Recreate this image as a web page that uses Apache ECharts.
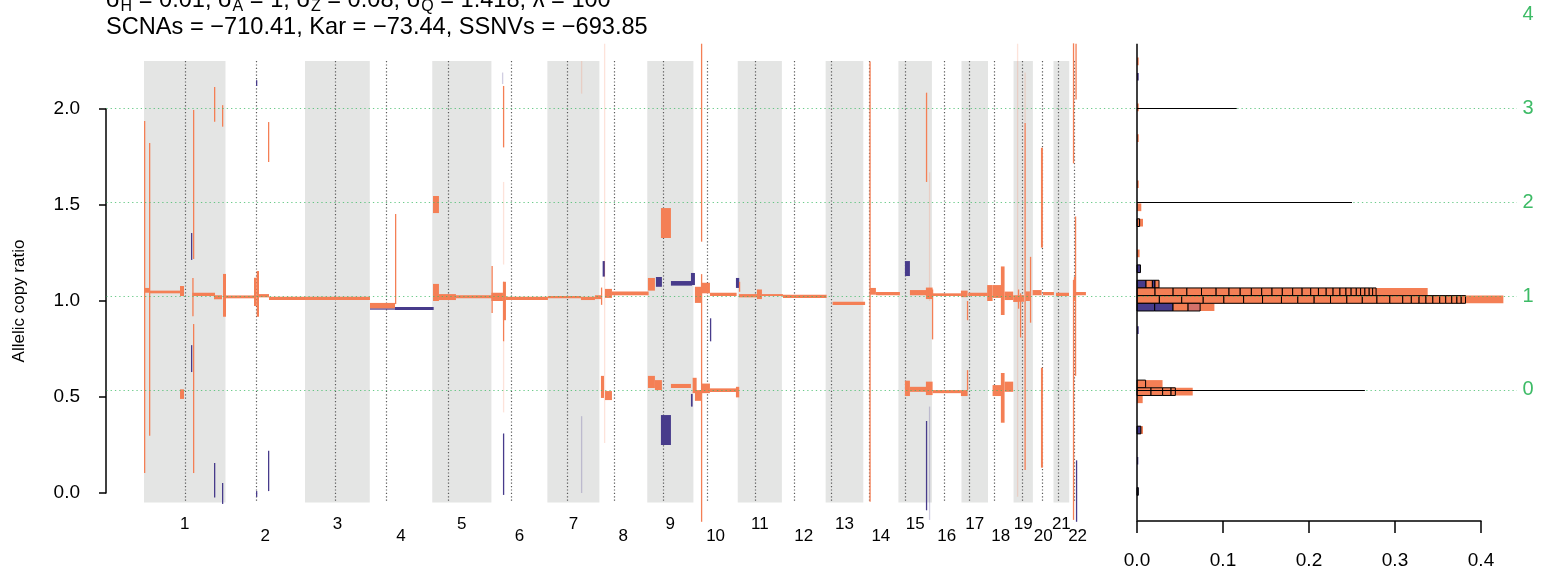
<!DOCTYPE html>
<html>
<head>
<meta charset="utf-8">
<script src="https://cdn.jsdelivr.net/npm/echarts@6/dist/echarts.min.js"></script>
<style>
  html, body { margin: 0; padding: 0; background: #fff; }
  #chart { width: 1556px; height: 576px; }
</style>
</head>
<body>
<div id="chart"></div>
<script>
// hg19 chromosome lengths and centromeres (Mb)
const chromNames = ['1','2','3','4','5','6','7','8','9','10','11','12','13','14','15','16','17','18','19','20','21','22'];
const chromLen = [249.25, 243.20, 198.02, 191.15, 180.92, 171.12, 159.14, 146.36, 141.21, 135.53, 135.01,
                  133.85, 115.17, 107.35, 102.53, 90.35, 81.20, 78.08, 59.13, 63.03, 48.13, 51.30];
const centromere = [125.0, 93.3, 91.0, 50.4, 48.4, 61.0, 59.9, 45.6, 49.0, 40.2, 53.7, 35.8, 17.9, 17.6,
                    19.0, 36.6, 24.0, 17.2, 26.5, 27.5, 13.2, 14.7];

// segments: [start Mb (genome), end Mb, ratio low, ratio high, colour key]
// o = orange, n = navy, p = faint orange, l = faint navy
const segments = [
  // chr1
  [0, 3.1, 0.104, 1.938, 'o'], [15.3, 18.3, 0.298, 1.823, 'o'], [0, 16.2, 1.043, 1.068, 'o'],
  [16.2, 110.1, 1.040, 1.054, 'o'], [110.1, 122.3, 1.026, 1.078, 'o'], [110.1, 122.3, 0.490, 0.540, 'o'],
  [143.7, 146.8, 1.214, 1.354, 'n'], [143.7, 146.8, 0.630, 0.770, 'n'], [149.8, 152.9, 1.219, 1.995, 'o'],
  [149.8, 152.9, 0.104, 0.880, 'o'], [147.7, 217.1, 1.026, 1.043, 'o'], [147.7, 149.8, 0.920, 1.120, 'o'],
  [214.1, 217.1, 1.934, 2.115, 'o'], [238.5, 241.6, 1.908, 2.020, 'o'], [214.1, 238.5, 1.009, 1.030, 'o'],
  [241.6, 250.8, 0.918, 1.141, 'o'], [214.1, 217.1, -0.024, 0.156, 'n'], [238.5, 241.6, -0.057, 0.052, 'n'],
  // chr2
  [250.8, 339.4, 1.014, 1.029, 'o'], [336.4, 344.6, 0.974, 1.121, 'o'], [344.6, 351.7, 0.918, 1.156, 'o'],
  [351.7, 382.3, 1.019, 1.036, 'o'], [382.3, 691.1, 1.005, 1.022, 'o'], [342.5, 345.6, 2.120, 2.150, 'n'],
  [379.2, 382.3, 1.724, 1.932, 'o'], [379.2, 382.3, 0.010, 0.220, 'n'], [342.5, 345.6, -0.020, 0.010, 'n'],
  // chr4
  [691.1, 767.6, 0.955, 0.962, 'n'], [691.1, 767.6, 0.962, 0.990, 'o'], [767.6, 886.0, 0.953, 0.969, 'n'],
  [767.6, 770.6, 0.984, 1.453, 'o'],
  // chr5
  [883.8, 902.1, 1.458, 1.547, 'o'], [883.8, 902.1, 1.000, 1.089, 'o'], [902.1, 954.1, 1.005, 1.036, 'o'],
  [954.1, 1064.2, 1.014, 1.030, 'o'], [1062.7, 1065.7, 0.937, 1.182, 'o'],
  // chr6
  [1062.5, 1097.8, 1.000, 1.043, 'o'], [1097.8, 1100.9, 1.800, 2.120, 'o'], [1097.8, 1100.9, 1.190, 1.620, 'p'],
  [1094.8, 1097.8, 2.130, 2.190, 'l'], [1097.8, 1107.0, 0.900, 1.100, 'o'], [1097.8, 1100.9, 0.790, 1.100, 'o'],
  [1097.8, 1100.9, 0.420, 0.790, 'p'], [1097.8, 1100.9, -0.010, 0.310, 'n'], [1107.0, 1235.5, 1.005, 1.022, 'o'],
  // chr7
  [1235.5, 1336.4, 1.014, 1.026, 'o'], [1336.4, 1379.2, 1.005, 1.022, 'o'], [1379.2, 1397.5, 1.010, 1.030, 'o'],
  [1336.4, 1339.5, 2.080, 2.250, 'p'], [1336.4, 1339.5, 0.000, 0.400, 'l'], [1397.5, 1400.6, 0.980, 1.070, 'o'],
  // chr8
  [1402.7, 1409.8, 1.127, 1.208, 'n'], [1406.8, 1409.8, 0.260, 2.340, 'p'], [1409.8, 1431.2, 1.016, 1.063, 'o'],
  [1431.2, 1543.4, 1.030, 1.049, 'o'], [1397.5, 1406.8, 0.495, 0.610, 'o'], [1409.8, 1431.2, 0.484, 0.531, 'o'],
  // chr9
  [1541.2, 1562.6, 1.054, 1.120, 'o'], [1565.7, 1584.0, 1.074, 1.125, 'n'], [1581.0, 1611.6, 1.328, 1.484, 'o'],
  [1611.6, 1675.8, 1.080, 1.104, 'n'], [1672.8, 1685.0, 1.083, 1.146, 'n'], [1541.2, 1562.6, 0.547, 0.610, 'o'],
  [1562.6, 1584.0, 0.536, 0.588, 'o'], [1581.0, 1611.6, 0.250, 0.406, 'n'], [1611.6, 1672.8, 0.547, 0.568, 'o'],
  [1672.8, 1678.0, 0.450, 0.516, 'n'], [1678.0, 1690.2, 0.520, 0.600, 'o'],
  // chr10
  [1703.4, 1706.4, 1.309, 2.340, 'o'], [1703.4, 1706.4, -0.150, 1.140, 'o'], [1684.9, 1705.4, 0.990, 1.074, 'o'],
  [1703.4, 1730.9, 1.040, 1.095, 'o'], [1730.9, 1812.5, 1.026, 1.043, 'o'], [1810.4, 1820.5, 1.068, 1.120, 'n'],
  [1819.5, 1822.6, 1.048, 1.100, 'o'], [1684.9, 1705.4, 0.480, 0.536, 'o'], [1705.4, 1730.9, 0.520, 0.570, 'o'],
  [1730.9, 1813.5, 0.526, 0.545, 'o'], [1810.4, 1820.5, 0.498, 0.553, 'o'], [1730.9, 1734.0, 0.790, 0.910, 'n'],
  // chr11 - chr13
  [1819.5, 1874.6, 1.019, 1.036, 'o'], [1874.6, 1889.9, 1.010, 1.060, 'o'], [1889.9, 1954.1, 1.026, 1.036, 'o'],
  [1954.1, 2087.8, 1.016, 1.033, 'o'], [2106.1, 2205.4, 0.979, 0.996, 'o'],
  // chr14
  [2218.6, 2222.0, -0.045, 2.247, 'o'], [2220.1, 2238.5, 1.033, 1.068, 'o'], [2238.5, 2311.9, 1.030, 1.047, 'o'],
  // chr15
  [2327.2, 2342.5, 1.130, 1.208, 'n'], [2342.5, 2393.6, 1.030, 1.057, 'o'], [2391.4, 2411.9, 1.010, 1.070, 'o'],
  [2391.4, 2394.5, 1.620, 2.085, 'o'], [2400.6, 2403.6, 1.000, 1.670, 'p'], [2327.2, 2342.5, 0.505, 0.585, 'o'],
  [2342.5, 2393.6, 0.527, 0.553, 'o'], [2391.4, 2411.9, 0.510, 0.580, 'o'], [2391.4, 2394.5, -0.090, 0.375, 'n'],
  [2400.6, 2403.6, -0.140, 0.450, 'l'], [2409.8, 2412.9, 0.800, 1.060, 'o'],
  // chr16
  [2411.9, 2498.5, 1.026, 1.040, 'o'], [2411.9, 2498.5, 0.520, 0.536, 'o'], [2498.5, 2519.0, 1.020, 1.054, 'o'],
  [2498.5, 2519.0, 0.505, 0.536, 'o'],
  // chr17
  [2516.8, 2520.8, 0.536, 0.640, 'o'], [2516.8, 2520.8, 0.900, 1.000, 'o'], [2520.8, 2580.1, 1.026, 1.043, 'o'],
  [2578.7, 2595.3, 1.000, 1.083, 'o'],
  // chr18
  [2595.3, 2621.6, 1.016, 1.083, 'o'], [2620.7, 2632.0, 0.927, 1.180, 'o'], [2632.0, 2658.4, 1.005, 1.049, 'o'],
  [2595.3, 2621.6, 0.505, 0.562, 'o'], [2620.7, 2632.0, 0.366, 0.625, 'o'], [2632.0, 2658.4, 0.527, 0.580, 'o'],
  // chr19
  [2658.4, 2672.9, 0.995, 1.030, 'o'], [2669.8, 2672.9, -0.020, 2.340, 'p'], [2672.9, 2675.9, 0.960, 1.060, 'o'],
  [2672.9, 2691.3, 0.996, 1.030, 'o'], [2692.8, 2695.9, 0.120, 1.927, 'o'], [2692.8, 2695.9, 1.930, 2.190, 'p'],
  [2696.3, 2709.5, 1.000, 1.050, 'o'], [2709.5, 2712.6, 0.887, 1.230, 'o'], [2679.0, 2682.0, 0.810, 1.040, 'o'],
  // chr20
  [2717.8, 2745.3, 1.030, 1.057, 'o'], [2743.2, 2749.3, 1.278, 1.798, 'o'], [2743.2, 2749.3, 0.132, 0.652, 'o'],
  [2749.3, 2783.0, 1.030, 1.047, 'o'],
  // chr21
  [2789.2, 2829.0, 1.026, 1.043, 'o'],
  // chr22
  [2840.9, 2844.9, 1.717, 2.342, 'o'], [2848.6, 2852.3, 2.050, 2.340, 'o'], [2840.9, 2844.9, -0.140, 1.110, 'o'],
  [2847.1, 2850.2, 0.610, 1.440, 'o'], [2850.2, 2853.3, -0.150, 0.170, 'n'], [2847.1, 2880.8, 1.030, 1.047, 'o'],
  [2844.0, 2850.0, 1.000, 1.125, 'o']
];

// copy-number levels (allelic copy ratio) and right-hand labels
const copyLevels = [0, 1, 2, 3, 4];
const levelRatio = [0.537, 1.024, 1.514, 2.003, 2.492];
const levelLineLen = [0.265, 0, 0.25, 0.116, 0];

// histogram of segment ratios (bin lower bound, width 0.04)
const histBinWidth = 0.04;
const histBins = [1.148, 1.068, 1.028, 0.988, 0.948, 0.548, 0.508, 0.468, 0.308, 1.468, 1.388, -0.012,
                  2.228, 2.148, 1.988, 1.828, 1.588, 1.228, 0.828, 0.148];
const histTotal = [0.004, 0.0256, 0.338, 0.426, 0.090, 0.0297, 0.0648, 0.0066, 0.007, 0.005, 0.007, 0.0015,
                   0.002, 0.002, 0.002, 0.002, 0.002, 0.003, 0.002, 0.0015];
const histTotalColor = ['n','o','o','o','o','o','o','o','o','o','o','n','o','n','o','o','o','o','n','n'];
const histStackWidths = [
  [0.004],
  [0.0105, 0.0074, 0.003, 0.0047],
  [0.021, 0.021, 0.016, 0.017, 0.017, 0.015, 0.013, 0.013, 0.012, 0.012, 0.012, 0.012, 0.011, 0.010, 0.009,
   0.009, 0.008, 0.008, 0.007, 0.006, 0.006, 0.005, 0.005, 0.005, 0.004, 0.004],
  [0.026, 0.026, 0.025, 0.024, 0.023, 0.022, 0.022, 0.019, 0.019, 0.019, 0.019, 0.018, 0.017, 0.015, 0.015,
   0.010, 0.009, 0.008, 0.008, 0.008, 0.007, 0.007, 0.006, 0.005, 0.005],
  [0.0206, 0.0213, 0.0175, 0.014],
  [0.010],
  [0.0163, 0.0135, 0.0098, 0.005],
  [], [0.0045], [], [0.003], [0.0015], [], [], [], [], [], [], [], []
];
const histStackColor = ['n', 'nono', 'o', 'o', 'nnos', 'o', 'o', '', 'n', '', 'o', 'n', '', '', '', '', '', '', '', ''];

const FONT = '"Liberation Sans", Arial, Helvetica, sans-serif';
const colorMap = {
  o: '#F47F55', n: '#473B8B', s: '#D4716A',
  p: 'rgba(244,127,85,0.22)', l: 'rgba(71,59,139,0.25)'
};
const bandLow = -0.05, bandHigh = 2.25;
const frameLow = -0.145, frameHigh = 2.34;
const levelLineRight = 1517;
const levelLabelX = 1528;

const chromStart = [];
let acc = 0;
chromLen.forEach(l => { chromStart.push(acc); acc += l; });
const genomeLen = acc;
const xPad = 0.04 * genomeLen;

const bands = [];
chromStart.forEach((s, i) => { if (i % 2 === 0) bands.push([s, s + chromLen[i]]); });
const cenPos = chromStart.map((s, i) => s + centromere[i]);
const chromMid = chromStart.map((s, i) => s + chromLen[i] / 2);

// histogram rectangles: [x0, x1, lo, hi, colour, bordered]
const histRects = [];
histBins.forEach((b, i) => {
  histRects.push([0, histTotal[i], b, b + histBinWidth, histTotalColor[i], 0]);
});
histBins.forEach((b, i) => {
  let x = 0;
  const cs = histStackColor[i];
  histStackWidths[i].forEach((w, k) => {
    const c = cs.length === 1 ? cs : cs[k];
    histRects.push([x, x + w, b, b + histBinWidth, c, 1]);
    x += w;
  });
});

const chart = echarts.init(document.getElementById('chart'));

const option = {
  animation: false,
  backgroundColor: '#fff',
  grid: [
    { left: 144, right: 470, top: 109, bottom: 83 },
    { left: 1137, right: 75, top: 109, bottom: 83 }
  ],
  xAxis: [
    { gridIndex: 0, type: 'value', min: 0, max: genomeLen, show: false },
    {
      gridIndex: 1, type: 'value', min: 0, max: 0.4, interval: 0.1, offset: 28,
      axisLine: { show: true, onZero: false, lineStyle: { color: '#000', width: 1.5 } },
      axisTick: { show: true, length: 12, lineStyle: { color: '#000', width: 1.5 } },
      axisLabel: { fontSize: 19, color: '#000', fontFamily: FONT, margin: 30, formatter: v => v.toFixed(1) },
      splitLine: { show: false }
    }
  ],
  yAxis: [
    {
      gridIndex: 0, type: 'value', min: 0, max: 2, interval: 0.5, offset: 38,
      name: 'Allelic copy ratio', nameLocation: 'middle', nameGap: 78, nameRotate: 90,
      nameTextStyle: { fontSize: 17, color: '#000', fontFamily: FONT },
      axisLine: { show: true, onZero: false, lineStyle: { color: '#000', width: 1.5 } },
      axisTick: { show: true, length: 7, lineStyle: { color: '#000', width: 1.5 } },
      axisLabel: { fontSize: 19, color: '#000', fontFamily: FONT, margin: 26, formatter: v => v.toFixed(1) },
      splitLine: { show: false }
    },
    { gridIndex: 1, type: 'value', min: 0, max: 2, show: false }
  ],
  graphic: [
    {
      type: 'text', x: 106, y: 0, z: 100,
      style: {
        text: '{n|σ}{b|H}{n| = 0.01, σ}{b|A}{n| = 1, σ}{b|Z}{n| = 0.08, σ}{b|Q}{n| = 1.418, λ = 100}',
        fill: '#000', verticalAlign: 'middle',
        rich: {
          n: { fontSize: 23.6, fontFamily: FONT, fill: '#000' },
          b: { fontSize: 16, fontFamily: FONT, fill: '#000', padding: [13, 0, 0, 0] }
        }
      }
    },
    {
      type: 'text', x: 106, y: 27, z: 100,
      style: {
        text: 'SCNAs = \u2212710.41, Kar = \u221273.44, SSNVs = \u2212693.85',
        fontSize: 23.6, fontFamily: FONT, fill: '#000', verticalAlign: 'middle'
      }
    }
  ],
  series: [
    {
      // alternating chromosome bands
      type: 'custom', xAxisIndex: 0, yAxisIndex: 0, z: 1, clip: false, silent: true,
      data: bands,
      renderItem: (params, api) => {
        const a = api.coord([api.value(0), bandHigh]);
        const b = api.coord([api.value(1), bandLow]);
        return { type: 'rect', shape: { x: a[0], y: a[1], width: b[0] - a[0], height: b[1] - a[1] },
                 style: { fill: '#E4E5E4' } };
      }
    },
    {
      // centromere lines
      type: 'custom', xAxisIndex: 0, yAxisIndex: 0, z: 2, clip: false, silent: true,
      data: cenPos.map(c => [c]),
      renderItem: (params, api) => {
        const a = api.coord([api.value(0), bandHigh]);
        const b = api.coord([api.value(0), bandLow]);
        return { type: 'line', shape: { x1: Math.round(a[0]) + 0.5, y1: a[1], x2: Math.round(a[0]) + 0.5, y2: b[1] },
                 style: { stroke: '#5a5a5a', lineWidth: 1.2, lineDash: [1.2, 2.2] } };
      }
    },
    {
      // segments
      type: 'custom', xAxisIndex: 0, yAxisIndex: 0, z: 4, clip: false, silent: true,
      data: segments.map(s => s.slice(0, 4)),
      renderItem: (params, api) => {
        const a = api.coord([api.value(0), api.value(3)]);
        const b = api.coord([api.value(1), api.value(2)]);
        const key = segments[params.dataIndex][4];
        return { type: 'rect',
                 shape: { x: a[0], y: a[1], width: Math.max(b[0] - a[0], 1.3), height: Math.max(b[1] - a[1], 1) },
                 style: { fill: colorMap[key] } };
      }
    },
    {
      // copy-number level lines (green dotted)
      type: 'custom', xAxisIndex: 0, yAxisIndex: 0, z: 5, clip: false, silent: true,
      data: levelRatio.slice(0, 4).map(r => [r]),
      renderItem: (params, api) => {
        const a = api.coord([-xPad, api.value(0)]);
        const y = Math.round(a[1]) + 0.5;
        return { type: 'line', shape: { x1: a[0], y1: y, x2: levelLineRight, y2: y },
                 style: { stroke: 'rgba(60,185,100,0.75)', lineWidth: 1.2, lineDash: [1.3, 3] } };
      }
    },
    {
      // chromosome labels
      type: 'custom', xAxisIndex: 0, yAxisIndex: 0, z: 5, clip: false, silent: true,
      data: chromMid.map(m => [m]),
      renderItem: (params, api) => {
        const p = api.coord([api.value(0), 0]);
        const off = params.dataIndex % 2 === 0 ? 31 : 43;
        return { type: 'text', x: p[0], y: p[1] + off,
                 style: { text: chromNames[params.dataIndex], fontSize: 17, fontFamily: FONT, fill: '#000',
                          align: 'center', verticalAlign: 'middle' } };
      }
    },
    {
      // histogram
      type: 'custom', xAxisIndex: 1, yAxisIndex: 1, z: 4, clip: false, silent: true,
      data: histRects.map(r => r.slice(0, 4)),
      renderItem: (params, api) => {
        const r = histRects[params.dataIndex];
        const a = api.coord([r[0], r[3]]);
        const b = api.coord([r[1], r[2]]);
        return { type: 'rect',
                 shape: { x: a[0], y: a[1], width: Math.max(b[0] - a[0], 1), height: b[1] - a[1] },
                 style: { fill: colorMap[r[4]], stroke: r[5] ? '#000' : null, lineWidth: r[5] ? 1 : 0 } };
      }
    },
    {
      // black level lines in histogram
      type: 'custom', xAxisIndex: 1, yAxisIndex: 1, z: 6, clip: false, silent: true,
      data: levelRatio.map((r, i) => [r, levelLineLen[i]]).filter(d => d[1] > 0),
      renderItem: (params, api) => {
        const a = api.coord([0, api.value(0)]);
        const b = api.coord([api.value(1), api.value(0)]);
        const y = Math.round(a[1]) + 0.5;
        return { type: 'line', shape: { x1: a[0], y1: y, x2: b[0], y2: y },
                 style: { stroke: '#000', lineWidth: 1 } };
      }
    },
    {
      // histogram vertical frame line
      type: 'custom', xAxisIndex: 1, yAxisIndex: 1, z: 7, clip: false, silent: true,
      data: [[0]],
      renderItem: (params, api) => {
        const a = api.coord([0, frameHigh]);
        const b = api.coord([0, frameLow]);
        return { type: 'line', shape: { x1: a[0], y1: a[1], x2: b[0], y2: b[1] },
                 style: { stroke: '#000', lineWidth: 1.5 } };
      }
    },
    {
      // copy-number labels on the right
      type: 'custom', xAxisIndex: 1, yAxisIndex: 1, z: 7, clip: false, silent: true,
      data: levelRatio.map(r => [r]),
      renderItem: (params, api) => {
        const p = api.coord([0, api.value(0)]);
        return { type: 'text', x: levelLabelX, y: p[1],
                 style: { text: String(copyLevels[params.dataIndex]), fontSize: 20, fontFamily: FONT,
                          fill: '#3DBB66', align: 'center', verticalAlign: 'middle' } };
      }
    }
  ]
};

chart.setOption(option);
</script>
</body>
</html>
